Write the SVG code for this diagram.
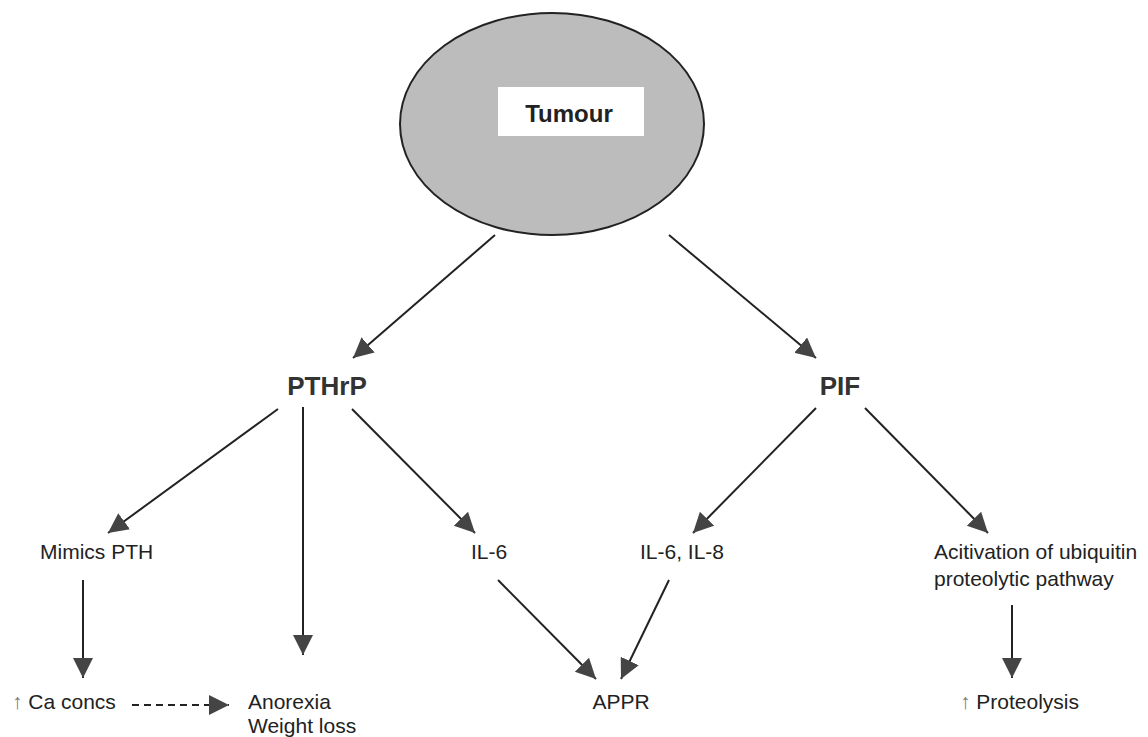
<svg xmlns="http://www.w3.org/2000/svg" width="1148" height="737" viewBox="0 0 1148 737">
<style>
text{font-family:"Liberation Sans",Arial,sans-serif;fill:#222}
.lbl{font-size:21px}
.big{font-size:26px;font-weight:bold;fill:#333}
.up{fill:#777}
.ln{stroke:#222;stroke-width:2;fill:none}
.dash{stroke:#222;stroke-width:2;fill:none;stroke-dasharray:7,5}
</style>
<defs>
<marker id="ah" markerWidth="22" markerHeight="22" refX="20" refY="10" orient="auto" markerUnits="userSpaceOnUse">
<path d="M0,0 L20,10 L0,20 Z" fill="#444"/>
</marker>
</defs>
<rect width="1148" height="737" fill="#fff"/>
<g id="tumour">
<ellipse cx="552" cy="124" rx="152" ry="111" fill="#bcbcbc" stroke="#222" stroke-width="2"/>
<rect x="498" y="87" width="146" height="49" fill="#fff"/>
<text x="569" y="122" text-anchor="middle" style="font-size:24px;font-weight:bold">Tumour</text>
</g>
<g id="pthrp"><text class="big" x="327" y="395" text-anchor="middle">PTHrP</text></g>
<g id="pif"><text class="big" x="840" y="395" text-anchor="middle">PIF</text></g>
<g id="mimics"><text class="lbl" x="40" y="559">Mimics PTH</text></g>
<g id="il6"><text class="lbl" x="471" y="559">IL-6</text></g>
<g id="il68"><text class="lbl" x="640" y="559">IL-6, IL-8</text></g>
<g id="ubiq"><text class="lbl" x="934" y="559">Acitivation of ubiquitin</text><text class="lbl" x="934" y="586">proteolytic pathway</text></g>
<g id="ca"><text class="lbl" x="12" y="709"><tspan class="up">↑</tspan> Ca concs</text></g>
<g id="anorexia"><text class="lbl" x="248" y="709">Anorexia</text><text class="lbl" x="248" y="733">Weight loss</text></g>
<g id="appr"><text class="lbl" x="621" y="709" text-anchor="middle">APPR</text></g>
<g id="proteolysis"><text class="lbl" x="960" y="709"><tspan class="up">↑</tspan> Proteolysis</text></g>
<g id="connectors">
<line class="ln" x1="495" y1="235" x2="353" y2="358" marker-end="url(#ah)"/>
<line class="ln" x1="669" y1="235" x2="816" y2="358" marker-end="url(#ah)"/>
<line class="ln" x1="278" y1="409" x2="108" y2="533" marker-end="url(#ah)"/>
<line class="ln" x1="303" y1="407" x2="303" y2="655" marker-end="url(#ah)"/>
<line class="ln" x1="352" y1="409" x2="475" y2="533" marker-end="url(#ah)"/>
<line class="ln" x1="816" y1="408" x2="693" y2="533" marker-end="url(#ah)"/>
<line class="ln" x1="865" y1="408" x2="988" y2="533" marker-end="url(#ah)"/>
<line class="ln" x1="83" y1="580" x2="83" y2="678" marker-end="url(#ah)"/>
<line class="dash" x1="132" y1="705" x2="229" y2="705" marker-end="url(#ah)"/>
<line class="ln" x1="498" y1="580" x2="596" y2="679" marker-end="url(#ah)"/>
<line class="ln" x1="669" y1="580" x2="621" y2="679" marker-end="url(#ah)"/>
<line class="ln" x1="1012" y1="605" x2="1012" y2="678" marker-end="url(#ah)"/>
</g>
</svg>
